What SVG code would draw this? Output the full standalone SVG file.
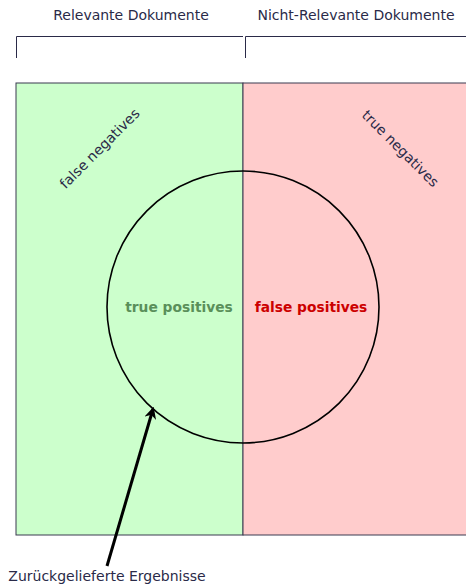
<svg xmlns="http://www.w3.org/2000/svg" width="466" height="584" viewBox="0 0 466 584">
<style>
text{font-family:"DejaVu Sans","Liberation Sans",sans-serif;font-size:14px;fill:#2a2a48}
.b{font-weight:bold;font-size:13.8px}
.ln{stroke:#2a2a48;fill:none;stroke-width:1}
.box{stroke:#3a3a50;stroke-width:1}
</style>
<defs>
<marker id="ah" viewBox="0 0 10 10" refX="8" refY="5" markerWidth="4" markerHeight="4" orient="auto" markerUnits="strokeWidth">
<path d="M0,0 L10,5 L0,10 L3,5 z" fill="#000"/>
</marker>
</defs>
<g id="relevant">
<rect x="16" y="83" width="227" height="452" fill="#ccffcc" class="box"/>
<path class="ln" d="M16.5,58 V36.5 H243"/>
<text x="131" y="20" text-anchor="middle">Relevante Dokumente</text>
<text x="103" y="152" text-anchor="middle" transform="rotate(-45 103 152)">false negatives</text>
</g>
<g id="nonrelevant">
<rect x="243" y="83" width="230" height="452" fill="#ffcccc" class="box"/>
<path class="ln" d="M245.5,58 V36.5 H466"/>
<text x="356" y="20" text-anchor="middle">Nicht-Relevante Dokumente</text>
<text x="397" y="152" text-anchor="middle" transform="rotate(45 397 152)">true negatives</text>
</g>
<g id="retrieved">
<circle cx="243" cy="307" r="136" fill="none" stroke="#000" stroke-width="1.6"/>
<text class="b" x="179" y="312" text-anchor="middle" style="fill:#5a8f5a">true positives</text>
<text class="b" x="311" y="312" text-anchor="middle" style="fill:#cc0000">false positives</text>
</g>
<g id="connectors">
<line x1="107" y1="566" x2="153" y2="409" stroke="#000" stroke-width="3" marker-end="url(#ah)"/>
</g>
<g id="label">
<text x="107" y="581" text-anchor="middle">Zurückgelieferte Ergebnisse</text>
</g>
</svg>
